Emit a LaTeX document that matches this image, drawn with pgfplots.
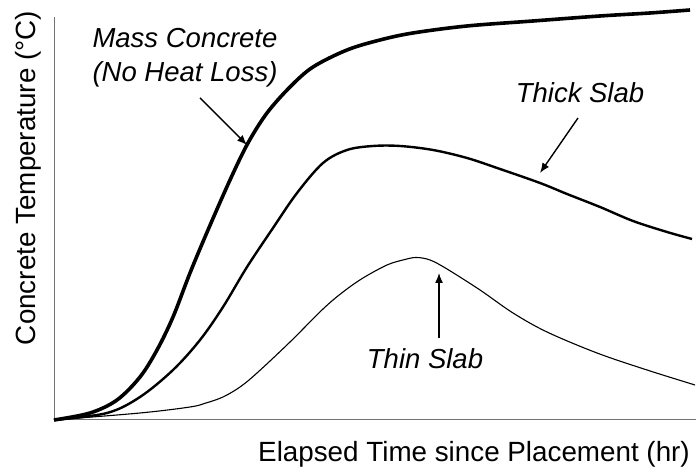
\documentclass[border=0pt]{standalone}
\usepackage{pgfplots}
\pgfplotsset{compat=1.18}
\usepackage{fontspec}
\setmainfont{Liberation Sans}
\usetikzlibrary{arrows.meta}
\begin{document}
\begin{tikzpicture}[x=1bp,y=1bp]
\useasboundingbox (0,0) rectangle (696,469);
\begin{axis}[
  at={(54bp,49bp)}, anchor=south west,
  scale only axis, width=642bp, height=403bp,
  xmin=0, xmax=642, ymin=0, ymax=403,
  axis x line=bottom, axis y line=left,
  axis line style={-, draw=gray!90!black, line width=1bp},
  ticks=none,
  clip=false,
]
% Mass concrete (no heat loss)
\addplot[black, line width=3.6bp, smooth, tension=0.55] coordinates {
(0,0) (36,7) (63,20) (86,43) (103,70) (119,103) (136,147) (154,190) (176,240)
(194,277) (213,307) (236,333) (259,353) (293,370) (326,380) (359,387) (413,394)
(479,399) (546,404) (596,407) (636,410)};
% Thick slab
\addplot[black, line width=2.4bp, smooth, tension=0.55] coordinates {
(0,0) (53,7) (86,23) (119,50) (146,80) (169,113) (193,153) (219,192) (243,227)
(269,257) (293,270) (319,274) (346,274) (379,270) (413,262) (446,251) (486,237)
(513,226) (546,213) (579,199) (613,188) (638,181)};
% Thin slab
\addplot[black, line width=1.1bp, smooth, tension=0.55] coordinates {
(0,0) (86,7) (136,13) (152,17) (169,23) (186,33) (203,47) (236,78) (269,111)
(289,128) (309,142) (333,155) (349,160) (362,162.5) (376,160) (393,151) (426,130)
(459,107) (493,88) (543,67) (593,50) (641,35)};
% labels
\node[anchor=base, font=\fontsize{27.5bp}{33bp}\selectfont\itshape] at (axis cs:131,372) {Mass Concrete};
\node[anchor=base, font=\fontsize{27.5bp}{33bp}\selectfont\itshape] at (axis cs:131,338) {(No Heat Loss)};
\node[anchor=base, font=\fontsize{27.5bp}{33bp}\selectfont\itshape] at (axis cs:526,317) {Thick Slab};
\node[anchor=base, font=\fontsize{27.5bp}{33bp}\selectfont\itshape] at (axis cs:371,51) {Thin Slab};
\draw[line width=1.4bp, -{Latex[length=10bp,width=8bp]}] (axis cs:146,322) -- (axis cs:193,275);
\draw[line width=1.4bp, -{Latex[length=10bp,width=8bp]}] (axis cs:524,302) -- (axis cs:486,247);
\draw[line width=1.4bp, -{Latex[length=10bp,width=8bp]}] (axis cs:385,82) -- (axis cs:385,147);
\end{axis}
\node[anchor=base, font=\fontsize{27.8bp}{33bp}\selectfont] at (474,7) {Elapsed Time since Placement (hr)};
\node[anchor=base, rotate=90, font=\fontsize{27.8bp}{33bp}\selectfont] at (35,291) {Concrete Temperature (°C)};
\end{tikzpicture}
\end{document}
